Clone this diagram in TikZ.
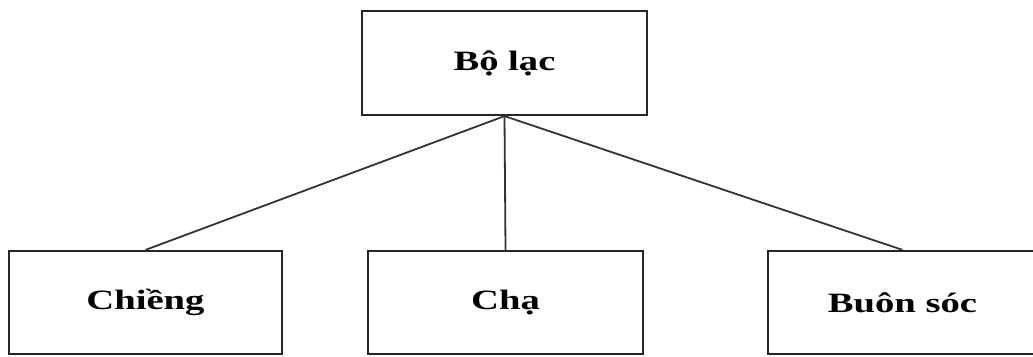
\documentclass[tikz,border=0pt]{standalone}
\usepackage{fontspec}
\setmainfont{Liberation Serif}[FakeStretch=1.38]
\begin{document}
\begin{tikzpicture}[x=1pt,y=-1pt,
  box/.style={draw=black!85, line width=2.2pt, rectangle, minimum height=103pt,
    inner sep=0pt, font=\fontsize{28}{30}\selectfont\bfseries, text=black},
  link/.style={draw=black!80, line width=1.8pt}]
\useasboundingbox (0,0) rectangle (1033,356);
\node[box, minimum width=285pt, minimum height=104pt] (top) at (504.5,63) {Bộ lạc};
\node[box, minimum width=273pt] (left) at (145.5,302.5) {Chiềng};
\node[box, minimum width=275pt] (mid) at (505.5,302.5) {Chạ};
\node[box, minimum width=269pt] (right) at (902.5,302.5) {Buôn sóc};
\draw[link] (top.south) -- (left.north);
\draw[link] (top.south) -- (mid.north);
\draw[link] (top.south) -- (right.north);
\end{tikzpicture}
\end{document}
